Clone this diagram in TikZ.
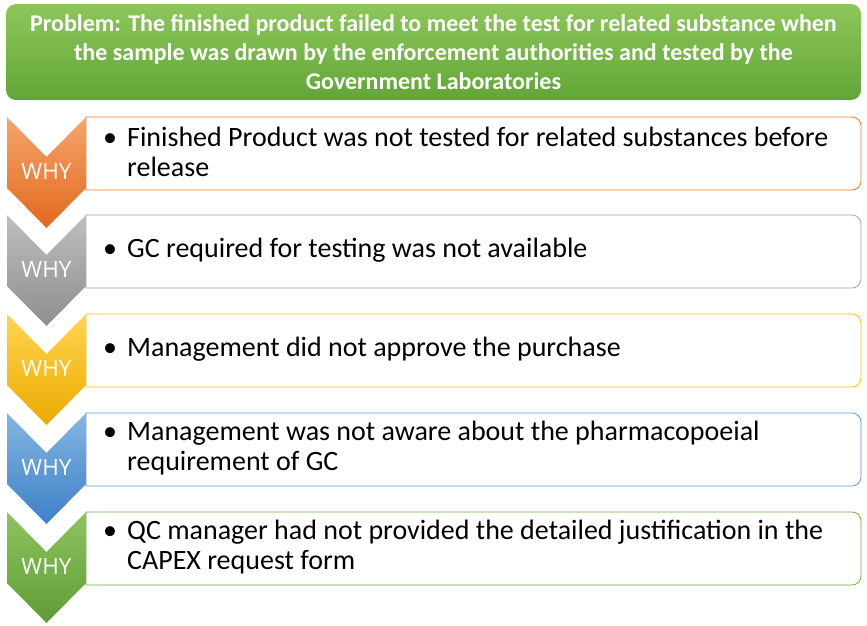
\documentclass[tikz,border=0pt]{standalone}
\usepackage{fontspec}
\setmainfont{Carlito}
\newfontfamily\whyfont{Open Sans}
\definecolor{tgreenT}{HTML}{8DC65A}
\definecolor{tgreenB}{HTML}{62A637}
\definecolor{orT}{HTML}{F5A56C}
\definecolor{orB}{HTML}{E2691C}
\definecolor{orL}{HTML}{ED7D31}
\definecolor{grT}{HTML}{BEBEBE}
\definecolor{grB}{HTML}{8E8E8E}
\definecolor{grL}{HTML}{A5A5A5}
\definecolor{goT}{HTML}{FFD54F}
\definecolor{goB}{HTML}{EBAA00}
\definecolor{goL}{HTML}{FFC000}
\definecolor{blT}{HTML}{84B6E2}
\definecolor{blB}{HTML}{3E80C6}
\definecolor{blL}{HTML}{5B9BD5}
\definecolor{gnT}{HTML}{8EC45E}
\definecolor{gnB}{HTML}{5E9C35}
\definecolor{gnL}{HTML}{70AD47}
\tikzset{
  whytext/.style={text=white, font=\whyfont\fontsize{22.5}{24}\selectfont, inner sep=0pt},
  boxtext/.style={anchor=west, align=left, inner sep=0pt, text=black, font=\fontsize{28}{29.5}\selectfont},
}
\newcommand{\bul}{\makebox[24pt][l]{•}}
\newcommand{\ind}{\makebox[24pt]{}}
% #1 top y, #2 top color, #3 bottom color, #4 line color, #5 name, #6 text
\newcommand{\whyrow}[6]{%
  \draw[#4, line width=0.8pt, fill=white] (86,#1+73) -- (86,#1) {[rounded corners=9pt] -- (861,#1) -- (861,#1+73)} -- cycle;
  \shade[top color=#2, bottom color=#3] (7,#1) -- (46.5,#1+40) -- (86,#1) -- (86,#1+71) -- (46.5,#1+111) -- (7,#1+71) -- cycle;
  \node[whytext] (w#5) at (46.5,#1+54) {WHY};
  \node[boxtext] (t#5) at (103,#1+35) {#6};
}
\begin{document}
\begin{tikzpicture}[x=1pt,y=-1pt]
\useasboundingbox (0,0) rectangle (867,625);
\shade[top color=tgreenT, bottom color=tgreenB, rounded corners=10pt] (6,4) rectangle (861,100);
\node[text=white, font=\bfseries\fontsize{24}{29}\selectfont, align=center, inner sep=0pt] (title) at (433.5,52)
 {Problem: The finished product failed to meet the test for related substance when\\the sample was drawn by the enforcement authorities and tested by the\\Government Laboratories};
\whyrow{117}{orT}{orB}{orL}{1}{\bul Finished Product was not tested for related substances before\\\ind release}
\whyrow{215}{grT}{grB}{grL}{2}{\bul GC required for testing was not available}
\whyrow{314}{goT}{goB}{goL}{3}{\bul Management did not approve the purchase}
\whyrow{413}{blT}{blB}{blL}{4}{\bul Management was not aware about the pharmacopoeial\\\ind requirement of GC}
\whyrow{512}{gnT}{gnB}{gnL}{5}{\bul QC manager had not provided the detailed justification in the\\\ind CAPEX request form}
\end{tikzpicture}
\end{document}
